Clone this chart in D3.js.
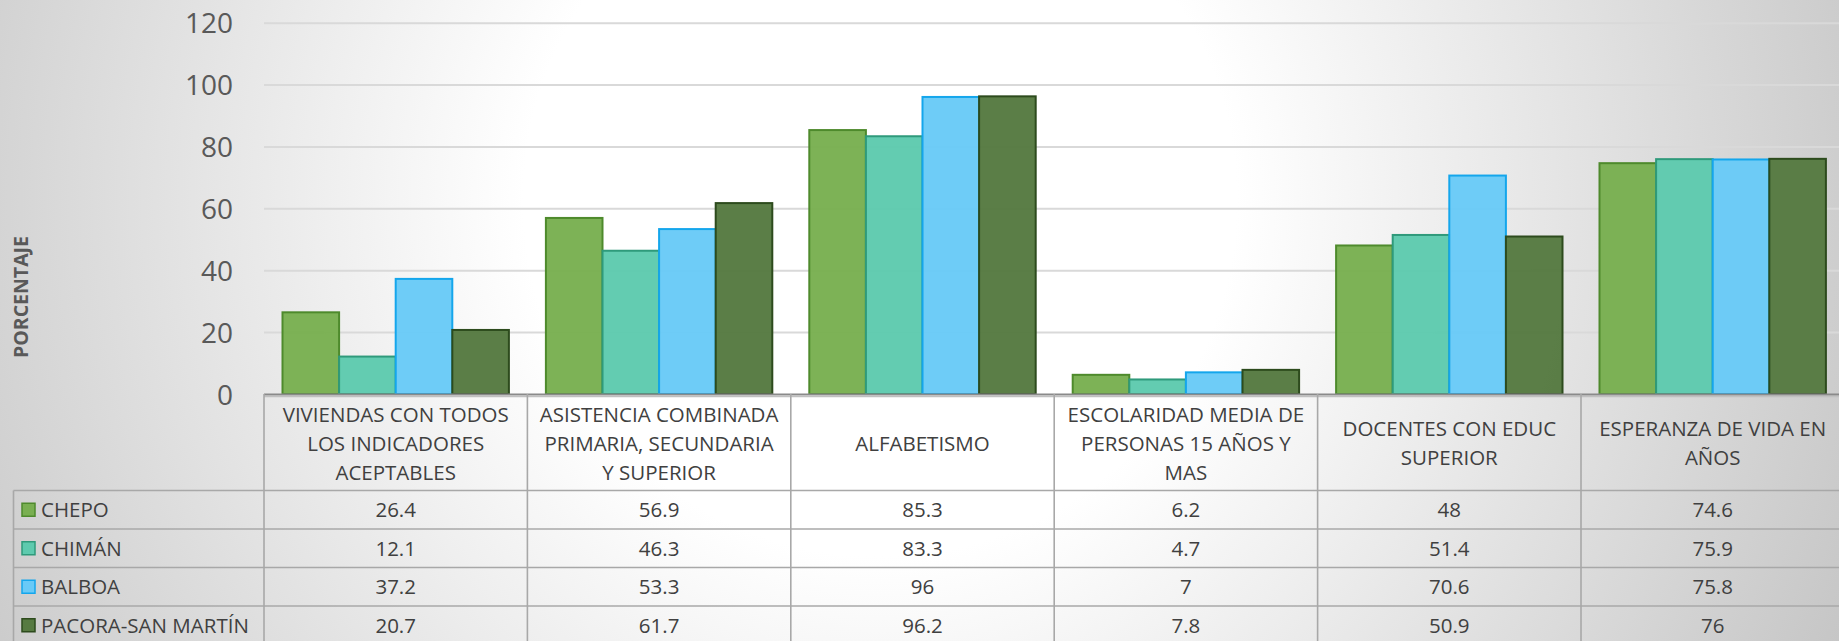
<!DOCTYPE html>
<html><head><meta charset="utf-8">
<script src="https://cdn.jsdelivr.net/npm/d3@7/dist/d3.min.js"></script>
<style>
html,body{margin:0;padding:0;overflow:hidden;background:#fff;}
svg{display:block;font-family:'Open Sans',sans-serif;}
</style>
</head><body>
<svg id="chart" width="1839" height="641"></svg>
<script>
// ---- data ----
const categories = ["VIVIENDAS", "ASISTENCIA", "ALFABETISMO", "ESCOLARIDAD", "DOCENTES", "ESPERANZA"];
const categoryLabels = [
  ["VIVIENDAS CON TODOS", "LOS INDICADORES", "ACEPTABLES"],
  ["ASISTENCIA COMBINADA", "PRIMARIA, SECUNDARIA", "Y SUPERIOR"],
  ["ALFABETISMO"],
  ["ESCOLARIDAD MEDIA DE", "PERSONAS 15 AÑOS Y", "MAS"],
  ["DOCENTES CON EDUC", "SUPERIOR"],
  ["ESPERANZA DE VIDA EN", "AÑOS"]
];
const seriesNames = ["CHEPO", "CHIMÁN", "BALBOA", "PACORA-SAN MARTÍN"];
const chepo  = [26.4, 56.9, 85.3, 6.2, 48, 74.6];
const chiman = [12.1, 46.3, 83.3, 4.7, 51.4, 75.9];
const balboa = [37.2, 53.3, 96, 7, 70.6, 75.8];
const pacora = [20.7, 61.7, 96.2, 7.8, 50.9, 76];
const yTicks = [0, 20, 40, 60, 80, 100, 120];
const yTitle = "PORCENTAJE";
const fills   = ["#79AF51", "#5ECAAE", "#69CAF7", "#567A41"];
const strokes = ["#4E8A2C", "#2F9A7B", "#14A6EC", "#2D4B1D"];

const seriesValues = [chepo, chiman, balboa, pacora];

// ---- layout ----
const W = 1839, H = 641;
const plotLeft = 264, colW = 263.4;
const plotRight = W;
const yZero = 394, yTop = 22.7;
const headerBottom = 490.5;
const rowH = 38.5;
const groupGap = 18.5;

const svg = d3.select("#chart");

// background radial gradient
const defs = svg.append("defs");
const rg = defs.append("radialGradient").attr("id", "bg")
  .attr("gradientUnits", "userSpaceOnUse")
  .attr("cx", 880).attr("cy", 200).attr("r", 1080);
rg.append("stop").attr("offset", 0).attr("stop-color", "#ffffff");
rg.append("stop").attr("offset", 0.33).attr("stop-color", "#ffffff");
rg.append("stop").attr("offset", 1).attr("stop-color", "#c4c4c4");
svg.append("rect").attr("width", W).attr("height", H).attr("fill", "url(#bg)");

// scales
const x = d3.scaleBand().domain(categories).range([plotLeft, plotLeft + colW * categories.length]).padding(0);
const xs = d3.scaleBand().domain(seriesNames).range([groupGap, colW - groupGap]).padding(0);
const y = d3.scaleLinear().domain([0, 120]).range([yZero, yTop]);

// gridlines
const grid = svg.append("g").attr("transform", `translate(${plotLeft},0)`)
  .call(d3.axisLeft(y).tickValues(yTicks.filter(d => d > 0)).tickSize(-(plotRight - plotLeft)).tickFormat(""));
grid.select(".domain").remove();
grid.selectAll(".tick line").attr("stroke", "#d9d9d9").attr("stroke-width", 2);

// y axis labels
const yAx = svg.append("g").attr("transform", `translate(233,0)`)
  .call(d3.axisLeft(y).tickValues(yTicks).tickSize(0).tickPadding(0));
yAx.select(".domain").remove();
yAx.selectAll(".tick text").attr("font-size", 28).attr("fill", "#595959")
  .attr("font-family", "'Open Sans',sans-serif").attr("dy", "0.36em");

// y title
svg.append("text").text(yTitle)
  .attr("transform", `translate(${21 + 7},297) rotate(-90)`)
  .attr("text-anchor", "middle").attr("font-weight", "bold")
  .attr("font-size", 19.5).attr("fill", "#595959");

// bars
seriesNames.forEach((s, si) => {
  svg.append("g").selectAll("rect").data(seriesValues[si]).join("rect")
    .attr("x", (d, i) => x(categories[i]) + xs(s))
    .attr("y", d => y(d))
    .attr("width", xs.bandwidth())
    .attr("height", d => yZero - y(d))
    .attr("fill", fills[si]).attr("fill-opacity", 0.97)
    .attr("stroke", strokes[si]).attr("stroke-width", 2);
});

// axis line
svg.append("line").attr("x1", plotLeft).attr("x2", plotRight).attr("y1", 394.5).attr("y2", 394.5)
  .attr("stroke", "#8a8a8a").attr("stroke-width", 2);

// data table
const tbl = svg.append("g");
const lineColor = "#a8a8a8";
tbl.append("line").attr("x1", plotLeft).attr("x2", plotRight).attr("y1", 396.5).attr("y2", 396.5)
  .attr("stroke", "#c0c0c0").attr("stroke-width", 1.5);
// horizontal row lines
d3.range(seriesNames.length).forEach(r => {
  const yy = headerBottom + r * rowH;
  tbl.append("line").attr("x1", 13.5).attr("x2", plotRight).attr("y1", yy).attr("y2", yy)
    .attr("stroke", lineColor).attr("stroke-width", 1.6);
});
// legend column left border
tbl.append("line").attr("x1", 13.5).attr("x2", 13.5).attr("y1", headerBottom).attr("y2", H)
  .attr("stroke", lineColor).attr("stroke-width", 1.6);
// column separators
d3.range(categories.length + 1).forEach(c => {
  const xx = plotLeft + c * colW;
  tbl.append("line").attr("x1", xx).attr("x2", xx).attr("y1", 394).attr("y2", H)
    .attr("stroke", lineColor).attr("stroke-width", 1.6);
});

// header labels
const fs = 20.5;
categories.forEach((c, ci) => {
  const lines = categoryLabels[ci];
  const cx = x(c) + x.bandwidth() / 2;
  const lh = 29;
  const cy = (396 + headerBottom) / 2;
  lines.forEach((ln, li) => {
    const ly = cy + (li - (lines.length - 1) / 2) * lh;
    tbl.append("text").text(ln).attr("x", cx).attr("y", ly).attr("dy", "0.36em")
      .attr("text-anchor", "middle").attr("font-size", fs).attr("fill", "#404040");
  });
});

// legend + values
seriesNames.forEach((s, si) => {
  const cy = headerBottom + si * rowH + rowH / 2;
  tbl.append("rect").attr("x", 22).attr("y", cy - 6.5).attr("width", 13).attr("height", 13)
    .attr("fill", fills[si]).attr("stroke", strokes[si]).attr("stroke-width", 1.5);
  tbl.append("text").text(s).attr("x", 41).attr("y", cy).attr("dy", "0.36em")
    .attr("font-size", fs).attr("fill", "#404040");
  seriesValues[si].forEach((v, ci) => {
    tbl.append("text").text(String(v))
      .attr("x", x(categories[ci]) + x.bandwidth() / 2).attr("y", cy).attr("dy", "0.36em")
      .attr("text-anchor", "middle").attr("font-size", fs).attr("fill", "#404040");
  });
});
</script>
</body></html>
